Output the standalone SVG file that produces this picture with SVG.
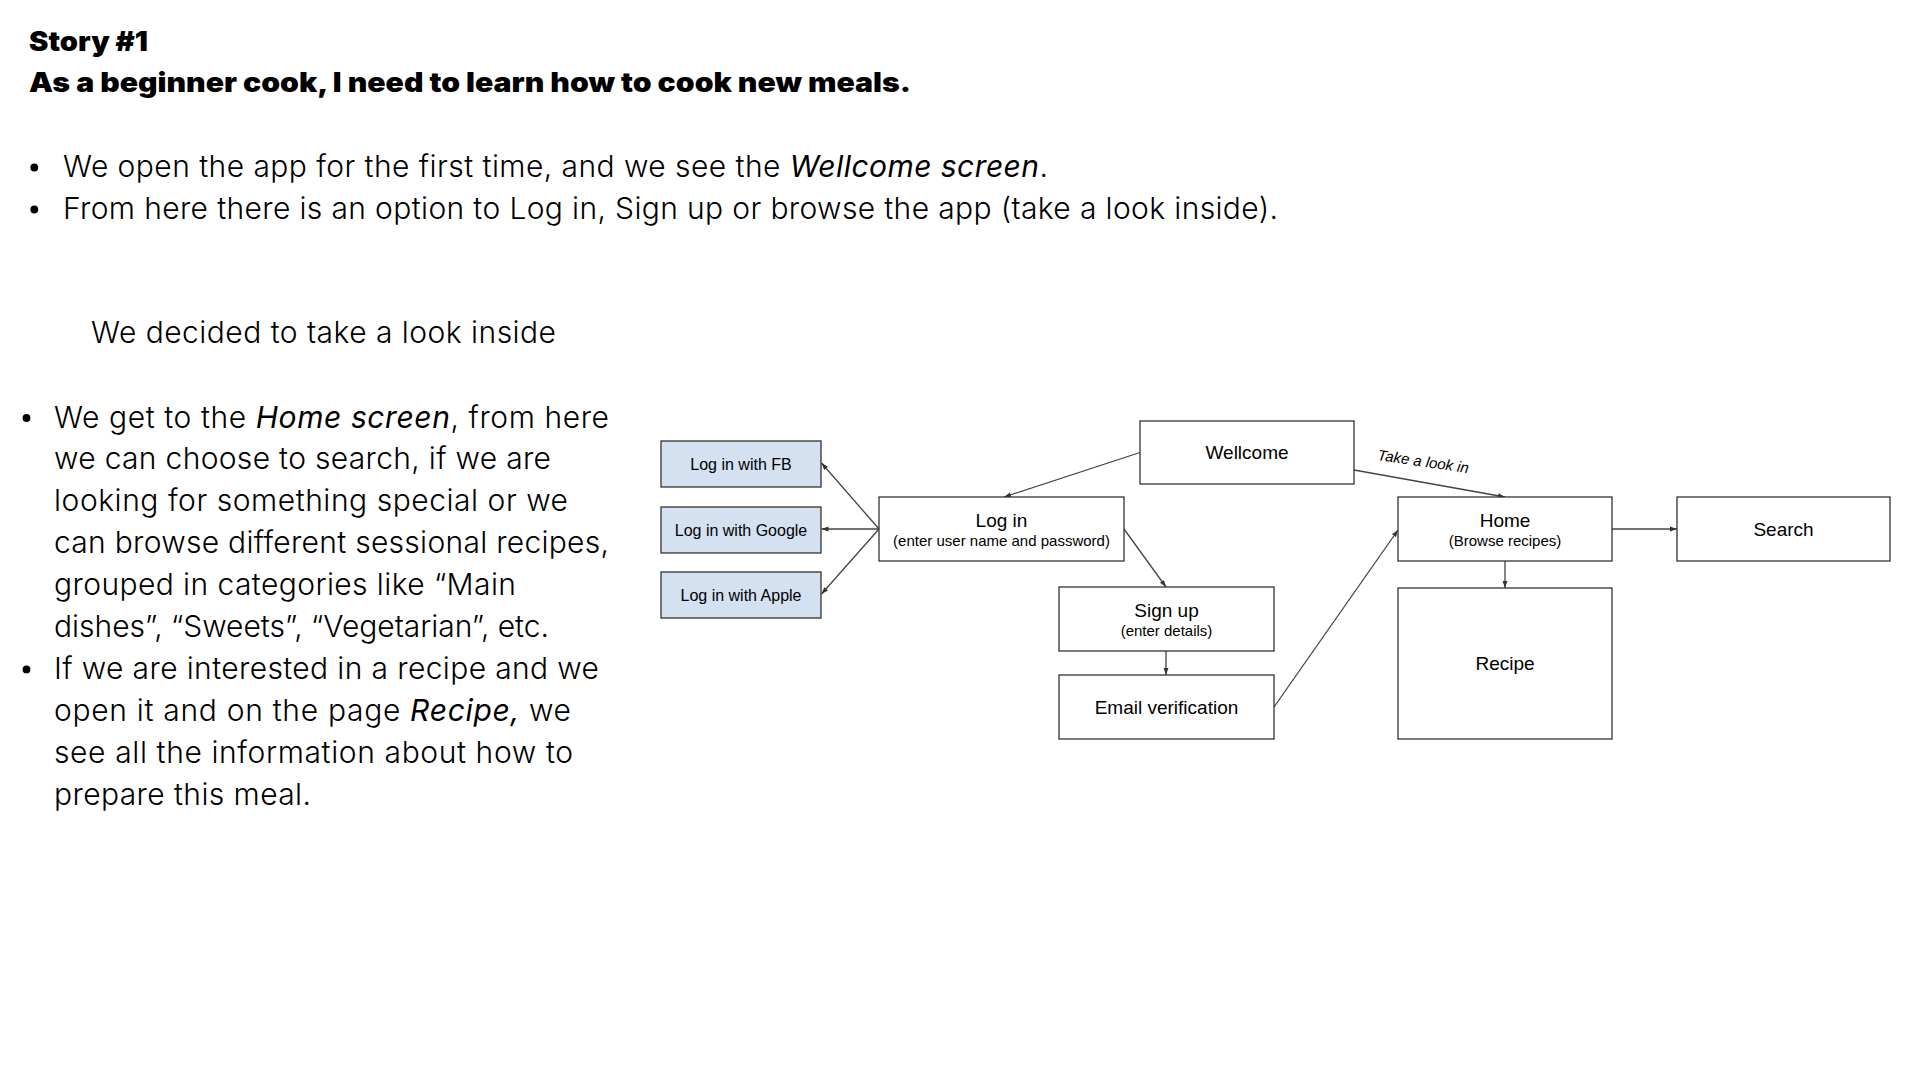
<svg xmlns="http://www.w3.org/2000/svg" width="1920" height="1080" viewBox="0 0 1920 1080">
<style>
.h{font-family:Inter,"Liberation Sans",sans-serif;font-weight:900;font-size:27px;fill:#000}
.b{font-family:Inter,"Liberation Sans",sans-serif;font-weight:300;font-size:30px;fill:#000}
.i{font-style:italic;font-weight:400}
.box{fill:#fff;stroke:#333;stroke-width:1.3}
.blue{fill:#d4e1f1;stroke:#333;stroke-width:1.3}
.t{font-family:"Liberation Sans",Arial,sans-serif;font-size:19px;fill:#000;text-anchor:middle}
.s{font-family:"Liberation Sans",Arial,sans-serif;font-size:15px;fill:#000;text-anchor:middle}
.m{font-family:"Liberation Sans",Arial,sans-serif;font-size:16px;fill:#000;text-anchor:middle}
.c{fill:none;stroke:#444;stroke-width:1.3;marker-end:url(#ah)}
</style>
<defs>
<marker id="ah" viewBox="0 0 10 10" refX="10" refY="5" markerWidth="7" markerHeight="7" markerUnits="userSpaceOnUse" orient="auto">
<path d="M0,1.5 L10,5 L0,8.5 z" fill="#333"/>
</marker>
</defs>
<rect width="1920" height="1080" fill="#fff"/>

<g id="text">
<text class="h" x="29" y="50.5" textLength="119" lengthAdjust="spacingAndGlyphs">Story #1</text>
<text class="h" x="29" y="92" textLength="882" lengthAdjust="spacingAndGlyphs">As a beginner cook, I need to learn how to cook new meals.</text>

<circle cx="34.3" cy="167.5" r="3.9" fill="#000"/>
<text class="b" x="63" y="177" textLength="985">We open the app for the first time, and we see the <tspan class="i">Wellcome screen</tspan>.</text>
<circle cx="34.3" cy="209.5" r="3.9" fill="#000"/>
<text class="b" x="63" y="219" textLength="1215">From here there is an option to Log in, Sign up or browse the app (take a look inside).</text>

<text class="b" x="91" y="342.5" textLength="465">We decided to take a look inside</text>

<circle cx="26.5" cy="418" r="3.9" fill="#000"/>
<text class="b" x="54" y="427.5" textLength="555">We get to the <tspan class="i">Home screen</tspan>, from here</text>
<text class="b" x="54" y="469.4" textLength="497">we can choose to search, if we are</text>
<text class="b" x="54" y="511.3" textLength="514">looking for something special or we</text>
<text class="b" x="54" y="553.2" textLength="555">can browse different sessional recipes,</text>
<text class="b" x="54" y="595.1" textLength="462">grouped in categories like “Main</text>
<text class="b" x="54" y="637" textLength="495">dishes”, “Sweets”, “Vegetarian”, etc.</text>
<circle cx="26.5" cy="669.4" r="3.9" fill="#000"/>
<text class="b" x="54" y="678.9" textLength="545">If we are interested in a recipe and we</text>
<text class="b" x="54" y="720.8" textLength="517">open it and on the page <tspan class="i">Recipe,</tspan> we</text>
<text class="b" x="54" y="762.7" textLength="519">see all the information about how to</text>
<text class="b" x="54" y="804.6" textLength="257">prepare this meal.</text>
</g>

<g id="connectors">
<line class="c" x1="1140" y1="452.5" x2="1004" y2="497"/>
<line class="c" x1="879" y1="529" x2="821.5" y2="463"/>
<line class="c" x1="879" y1="529" x2="821.5" y2="529"/>
<line class="c" x1="879" y1="529" x2="821.5" y2="594"/>
<line class="c" x1="1124" y1="529" x2="1166" y2="587"/>
<line class="c" x1="1166" y1="651" x2="1166" y2="675"/>
<line class="c" x1="1274" y1="707" x2="1398" y2="530"/>
<line class="c" x1="1354" y1="470" x2="1505" y2="497"/>
<line class="c" x1="1612" y1="529" x2="1677" y2="529"/>
<line class="c" x1="1505" y1="561" x2="1505" y2="588"/>
<text x="1377" y="460" transform="rotate(8.2 1377 460)" font-family="Liberation Sans, Arial, sans-serif" font-size="15" font-style="italic" fill="#000">Take a look in</text>
</g>

<g id="n-fb"><rect class="blue" x="661" y="441" width="160" height="46"/><text class="m" x="741" y="469.5">Log in with FB</text></g>
<g id="n-google"><rect class="blue" x="661" y="507" width="160" height="46"/><text class="m" x="741" y="535.5">Log in with Google</text></g>
<g id="n-apple"><rect class="blue" x="661" y="572" width="160" height="46"/><text class="m" x="741" y="600.5">Log in with Apple</text></g>

<g id="n-wellcome"><rect class="box" x="1140" y="421" width="214" height="63"/><text class="t" x="1247" y="459">Wellcome</text></g>
<g id="n-login"><rect class="box" x="879" y="497" width="245" height="64"/><text class="t" x="1001.5" y="527">Log in</text><text class="s" x="1001.5" y="546">(enter user name and password)</text></g>
<g id="n-signup"><rect class="box" x="1059" y="587" width="215" height="64"/><text class="t" x="1166.5" y="617">Sign up</text><text class="s" x="1166.5" y="636">(enter details)</text></g>
<g id="n-email"><rect class="box" x="1059" y="675" width="215" height="64"/><text class="t" x="1166.5" y="713.5">Email verification</text></g>
<g id="n-home"><rect class="box" x="1398" y="497" width="214" height="64"/><text class="t" x="1505" y="527">Home</text><text class="s" x="1505" y="546">(Browse recipes)</text></g>
<g id="n-search"><rect class="box" x="1677" y="497" width="213" height="64"/><text class="t" x="1783.5" y="535.5">Search</text></g>
<g id="n-recipe"><rect class="box" x="1398" y="588" width="214" height="151"/><text class="t" x="1505" y="670">Recipe</text></g>
</svg>
